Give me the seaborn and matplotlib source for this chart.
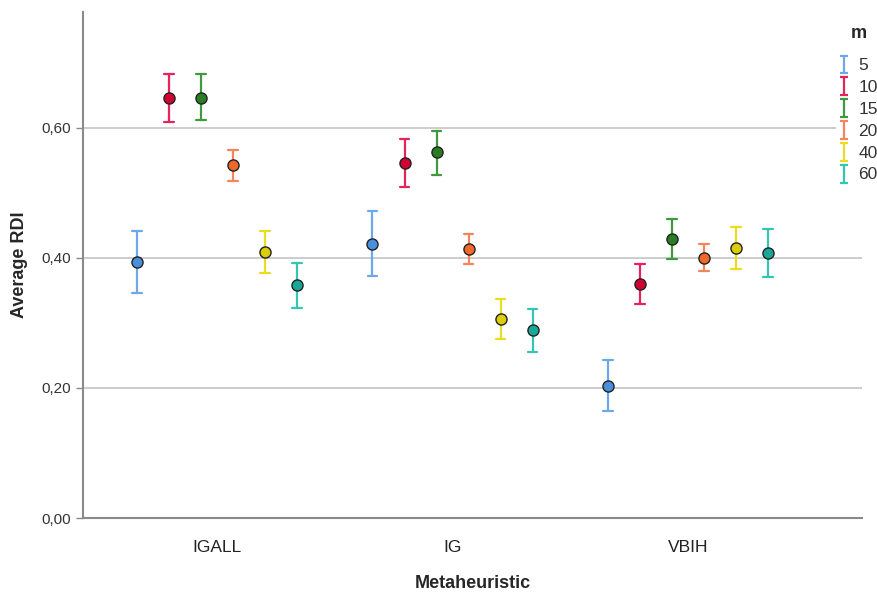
import numpy as np
import pandas as pd
import matplotlib
matplotlib.use("Agg")
import matplotlib.pyplot as plt
import seaborn as sns
from matplotlib.ticker import FuncFormatter

metaheuristics = ["IGALL", "IG", "VBIH"]
m_levels = ["5", "10", "15", "20", "40", "60"]

# mean, lower, upper for each metaheuristic (rows follow m_levels)
mean_igall = [0.393, 0.646, 0.646, 0.543, 0.409, 0.358]
low_igall = [0.346, 0.609, 0.612, 0.518, 0.377, 0.323]
high_igall = [0.441, 0.683, 0.682, 0.566, 0.441, 0.392]

mean_ig = [0.421, 0.546, 0.562, 0.413, 0.306, 0.289]
low_ig = [0.372, 0.509, 0.528, 0.391, 0.275, 0.255]
high_ig = [0.472, 0.583, 0.595, 0.436, 0.337, 0.321]

mean_vbih = [0.203, 0.360, 0.429, 0.400, 0.415, 0.408]
low_vbih = [0.165, 0.329, 0.398, 0.380, 0.383, 0.370]
high_vbih = [0.243, 0.391, 0.460, 0.421, 0.448, 0.445]

bar_colors = ["#6fa8ea", "#e4245a", "#3f9a3f", "#f6845a", "#e9dc22", "#35c6b2"]
dot_colors = ["#4a8fdc", "#d10032", "#2a7d22", "#f0682a", "#dccd0a", "#18a898"]

rows = []
for name, mn, lo, hi in [("IGALL", mean_igall, low_igall, high_igall),
                         ("IG", mean_ig, low_ig, high_ig),
                         ("VBIH", mean_vbih, low_vbih, high_vbih)]:
    for m, a, b, c in zip(m_levels, mn, lo, hi):
        for v in (b, a, c):
            rows.append({"Metaheuristic": name, "m": m, "RDI": v})
df = pd.DataFrame(rows)

sns.set_theme(style="white")
plt.rcParams["font.family"] = ["Liberation Sans", "DejaVu Sans"]

fig = plt.figure(figsize=(8.77, 5.95), dpi=100)
ax = fig.add_axes([0.0946, 0.1294, 0.8884, 0.8506])

dodge = 0.68
sns.pointplot(data=df, x="Metaheuristic", y="RDI", hue="m", order=metaheuristics,
              hue_order=m_levels, palette=bar_colors, estimator="median",
              errorbar=lambda v: (v.min(), v.max()), dodge=dodge, linestyle="none",
              markers="", capsize=0.04, err_kws={"linewidth": 1.6}, legend=False, ax=ax)
sns.pointplot(data=df, x="Metaheuristic", y="RDI", hue="m", order=metaheuristics,
              hue_order=m_levels, palette=dot_colors, estimator="median",
              errorbar=None, dodge=dodge, linestyle="none", markers="o",
              markersize=8, legend=False, ax=ax)
for ln in ax.lines:
    if ln.get_marker() == "o":
        ln.set_markeredgecolor("#222222")
        ln.set_markeredgewidth(1.0)
        ln.set_zorder(5)

ax.set_xlim(-0.57, 2.74)
ax.set_ylim(0, 0.778)
ax.set_yticks([0, 0.2, 0.4, 0.6])
ax.yaxis.set_major_formatter(FuncFormatter(lambda v, p: f"{v:.2f}".replace(".", ",")))
for yv in [0.2, 0.4, 0.6]:
    ax.axhline(yv, color="#c4c4c4", linewidth=1.2, zorder=0)

for s in ["top", "right"]:
    ax.spines[s].set_visible(False)
for s in ["left", "bottom"]:
    ax.spines[s].set_color("#8a8a8a")
    ax.spines[s].set_linewidth(1.5)
ax.tick_params(axis="y", left=True, length=5, width=1, color="#8a8a8a",
               labelsize=11, labelcolor="#333333")
ax.tick_params(axis="x", bottom=False, labelsize=12.5, labelcolor="#222222", pad=10)
ax.set_xlabel("Metaheuristic", fontsize=13, fontweight="bold", labelpad=14)
ax.set_ylabel("Average RDI", fontsize=13, fontweight="bold", labelpad=10)

handles = []
for c in bar_colors:
    h = ax.errorbar([np.nan], [np.nan], yerr=[[0.1], [0.1]], fmt="none", ecolor=c,
                    elinewidth=1.6, capsize=3, capthick=1.6)
    handles.append(h)
leg = fig.legend(handles, m_levels, title="m", loc="upper left",
                 bbox_to_anchor=(0.953, 0.963), frameon=True, framealpha=1,
                 facecolor="white", edgecolor="none", fontsize=12.5,
                 handlelength=0.6, handleheight=0.5, handletextpad=0.5,
                 labelspacing=0.4, borderaxespad=0, borderpad=0.2)
leg.get_title().set_fontweight("bold")
leg.get_title().set_fontsize(13)
leg._legend_box.sep = 11
for t in leg.get_texts():
    t.set_color("#333333")

fig.savefig("out.png", dpi=100)
